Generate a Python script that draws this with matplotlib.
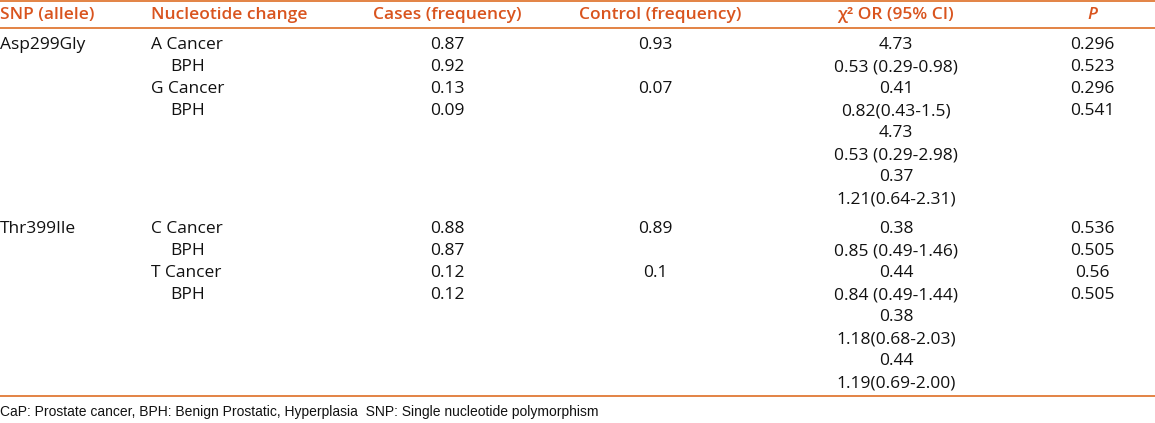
import matplotlib.pyplot as plt

header = ["SNP (allele)", "Nucleotide change", "Cases (frequency)",
          "Control (frequency)", "\u03c7\u00b2 OR (95% CI)", "P"]

snps = ["Asp299Gly", "Thr399Ile"]
nucleotide = [["A Cancer", "BPH", "G Cancer", "BPH"],
              ["C Cancer", "BPH", "T Cancer", "BPH"]]
cases = [["0.87", "0.92", "0.13", "0.09"],
         ["0.88", "0.87", "0.12", "0.12"]]
control = [["0.93", "", "0.07", ""],
           ["0.89", "", "0.1", ""]]
chi_or = [["4.73", "0.53 (0.29-0.98)", "0.41", "0.82(0.43-1.5)",
           "4.73", "0.53 (0.29-2.98)", "0.37", "1.21(0.64-2.31)"],
          ["0.38", "0.85 (0.49-1.46)", "0.44", "0.84 (0.49-1.44)",
           "0.38", "1.18(0.68-2.03)", "0.44", "1.19(0.69-2.00)"]]
pvals = [["0.296", "0.523", "0.296", "0.541"],
         ["0.536", "0.505", "0.56", "0.505"]]

footnote = "CaP: Prostate cancer, BPH: Benign Prostatic, Hyperplasia  SNP: Single nucleotide polymorphism"

orange = "#d9541e"
line_col = "#e07a36"
txt = "#111111"
fs = 12.5
plt.rcParams['font.family'] = ['Open Sans', 'DejaVu Sans']

fig = plt.figure(figsize=(11.55, 4.23), dpi=100)
ax = fig.add_axes([0, 0, 1, 1])
ax.set_xlim(0, 1155)
ax.set_ylim(423, 0)
ax.axis('off')

# header
hx = [0, 151, 447, 660, 896, 1092]
ha = ['left', 'left', 'center', 'center', 'center', 'center']
for i, h in enumerate(header):
    style = 'italic' if h == "P" else 'normal'
    ax.text(hx[i], 15, h, color=orange, fontsize=fs, ha=ha[i], va='center',
            style=style, weight='semibold')

ax.axhline(1.5, color=line_col, lw=1.3)
ax.axhline(28.5, color=line_col, lw=1.3)
ax.axhline(396.5, color=line_col, lw=1.3)

step = 22
starts = [45, 229]
for g in range(2):
    y0 = starts[g]
    ax.text(0, y0, snps[g], color=txt, fontsize=fs, va='center')
    for r in range(4):
        y = y0 + r * step
        name = nucleotide[g][r]
        nx = 170 if name == "BPH" else 151
        ax.text(nx, y, name, color=txt, fontsize=fs, va='center')
        ax.text(447, y, cases[g][r], color=txt, fontsize=fs, ha='center', va='center')
        if control[g][r]:
            ax.text(655, y, control[g][r], color=txt, fontsize=fs, ha='center', va='center')
        ax.text(1092, y, pvals[g][r], color=txt, fontsize=fs, ha='center', va='center')
    for r, v in enumerate(chi_or[g]):
        ax.text(896, y0 + r * step, v, color=txt, fontsize=fs, ha='center', va='center')

ax.text(0, 412, footnote, color=txt, fontsize=10, va='center', family=['Liberation Sans'])

fig.savefig("out.png", dpi=100)
